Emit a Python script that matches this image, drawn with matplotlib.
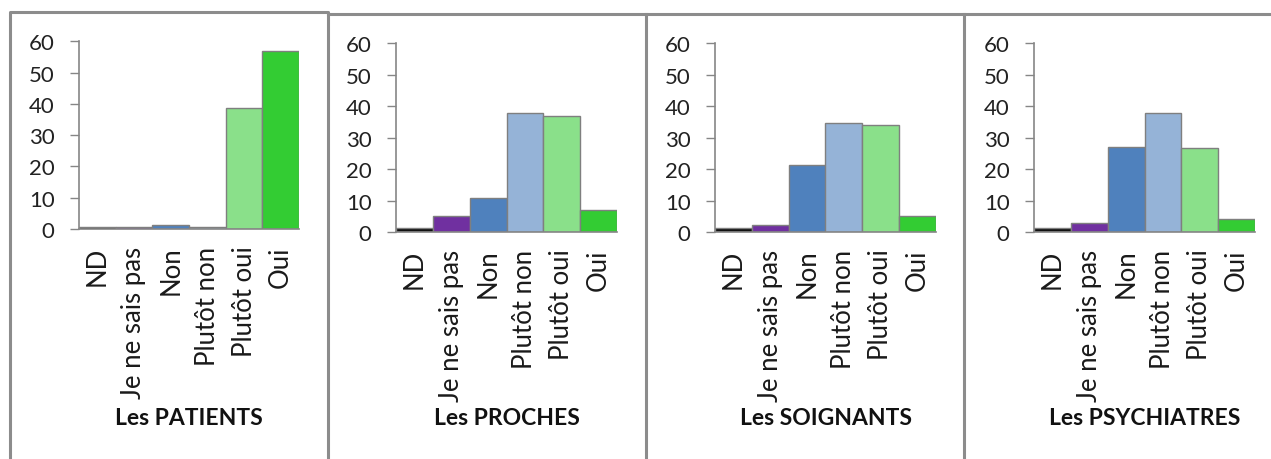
import matplotlib
matplotlib.use("Agg")
import matplotlib.pyplot as plt
from matplotlib.lines import Line2D

plt.rcParams['font.family'] = ['Lato', 'DejaVu Sans']

categories = ["ND", "Je ne sais pas", "Non", "Plutôt non", "Plutôt oui", "Oui"]
colors = ["#111111", "#7030A0", "#4F81BD", "#95B3D7", "#8AE08A", "#33CC33"]

groups = ["Les PATIENTS", "Les PROCHES", "Les SOIGNANTS", "Les PSYCHIATRES"]
patients = [0.6, 0.6, 1.2, 0.7, 38.7, 56.8]
proches = [1.2, 5.2, 10.9, 37.8, 37.0, 6.9]
soignants = [1.2, 2.3, 21.2, 34.6, 34.1, 5.2]
psychiatres = [1.2, 2.8, 26.9, 37.8, 26.7, 4.0]
values = [patients, proches, soignants, psychiatres]

W, H = 1271, 460
fig = plt.figure(figsize=(W / 100, H / 100), dpi=100)

# plot areas in pixels: (left, right, y of 0, y of 60)
boxes = [(79, 299, 230, 42.3), (396, 617, 233, 44.3),
         (715, 936, 233, 44.3), (1034, 1255, 233, 44.3)]

grey = "#868686"
for i in range(4):
    l, r, y0, y60 = boxes[i]
    ax = fig.add_axes([l / W, 1 - y0 / H, (r - l) / W, (y0 - y60) / H])
    ax.bar(range(6), values[i], width=1.0, color=colors,
           edgecolor="#7f7f7f", linewidth=1.0)
    ax.set_xlim(-0.5, 5.5)
    ax.set_ylim(0, 60)
    ax.set_yticks(range(0, 61, 10))
    ax.set_xticks(range(6))
    ax.set_xticklabels(categories, rotation=90, fontsize=18.5, color="#1a1a1a")
    ax.tick_params(axis="x", length=0, pad=12)
    ax.tick_params(axis="y", direction="out", length=6.5, width=1.0,
                   color=grey, pad=11, labelsize=16, labelcolor="#222222")
    for s in ["top", "right"]:
        ax.spines[s].set_visible(False)
    for s in ["left", "bottom"]:
        ax.spines[s].set_color(grey)
        ax.spines[s].set_linewidth(1.2)
    ax.patch.set_visible(False)
    fig.text((l + r) / 2 / W, 1 - 419 / H, groups[i], ha="center",
             va="center", fontsize=16.5, fontweight="bold", color="#111111")

# frames around the panels
fc = "#8c8c8c"
def fline(xs, ys):
    fig.add_artist(Line2D([x / W for x in xs], [1 - y / H for y in ys],
                          color=fc, linewidth=2.2, transform=fig.transFigure))

fline([10, 10, 327.5, 327.5], [460, 12.5, 12.5, 460])
fline([327.5, 1271], [14.5, 14.5])
fline([646, 646], [14.5, 460])
fline([964, 964], [14.5, 460])

fig.savefig("out.png", dpi=100)
